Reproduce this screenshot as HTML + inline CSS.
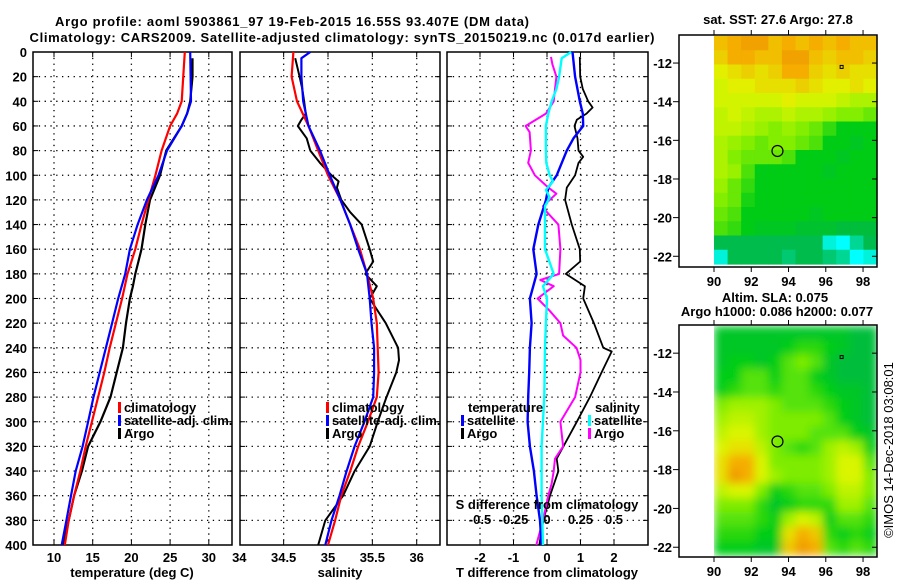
<!DOCTYPE html>
<html><head><meta charset="utf-8">
<style>
html,body{margin:0;padding:0;background:#fff;}
svg{display:block;font-family:"Liberation Sans",Arial,sans-serif;}
.t{font-weight:bold;font-size:13px;fill:#000;}
</style></head>
<body>
<svg id="fig" width="900" height="580" viewBox="0 0 900 580" xmlns="http://www.w3.org/2000/svg">
<defs>
<filter id="blur" x="0" y="0" width="1" height="1"><feGaussianBlur stdDeviation="4.5" edgeMode="duplicate"/></filter>
<clipPath id="clip2"><rect x="714" y="325" width="163" height="231"/></clipPath>
</defs>
<text class="t" x="292" y="26" text-anchor="middle" font-size="14" textLength="474">Argo profile: aoml 5903861_97 19-Feb-2015 16.55S 93.407E (DM data)</text>
<text class="t" x="342" y="42" text-anchor="middle" font-size="14" textLength="625">Climatology: CARS2009. Satellite-adjusted climatology: synTS_20150219.nc (0.017d earlier)</text>
<text class="t" x="778" y="24" text-anchor="middle">sat. SST: 27.6 Argo: 27.8</text>
<text class="t" x="775" y="302" text-anchor="middle">Altim. SLA: 0.075</text>
<text class="t" x="777" y="316" text-anchor="middle">Argo h1000: 0.086 h2000: 0.077</text>
<text x="893" y="450" font-size="13" text-anchor="middle" transform="rotate(-90 893 450)">©IMOS 14-Dec-2018 03:08:01</text>
<g id="g"></g>
</svg>
<script>
// ---- depth axis ----
const depthTicks=[0,20,40,60,80,100,120,140,160,180,200,220,240,260,280,300,320,340,360,380,400];
// ---- temperature panel ----
const tTicks=[10,15,20,25,30];
const climDepth=[0,40,50,60,80,100,120,140,160,180,200,220,240,260,280,300,320,340,360,380,400];
const climT=[26.9,26.5,25.9,25.0,23.9,23.1,22.2,21.3,20.5,19.5,18.8,18.0,17.2,16.5,15.7,14.9,14.1,13.4,12.6,11.9,11.4];
const satT=[27.6,27.7,27.2,26.5,24.6,23.5,22.0,20.8,19.8,19.2,18.3,17.5,16.7,15.9,15.1,14.4,13.7,12.8,12.2,11.6,11.0];
const argoDepthT=[5,20,40,50,60,80,100,120,140,160,180,190,200,220,240,260,280,300,320,340,360,380,400];
const argoT=[27.9,27.9,27.6,27.2,26.5,24.5,23.7,22.4,21.8,21.3,20.5,20.2,19.8,19.3,18.9,18.1,17.3,16.0,14.4,13.6,12.6,11.9,11.1];
// ---- salinity panel ----
const sTicks=[34,34.5,35,35.5,36];
const climDepthS=[0,20,40,60,80,100,120,140,160,180,200,220,240,260,280,300,320,340,360,380,400];
const climS=[34.61,34.59,34.65,34.78,34.89,35.00,35.14,35.25,35.36,35.44,35.51,35.55,35.56,35.57,35.55,35.45,35.34,35.25,35.15,35.08,35.00];
const satDepthS=[0,5,20,40,60,80,100,120,140,160,180,200,220,240,260,280,300,320,340,360,380,400];
const satS=[34.80,34.70,34.70,34.72,34.78,34.91,35.02,35.14,35.25,35.34,35.44,35.47,35.49,35.52,35.52,35.51,35.41,35.30,35.21,35.13,35.04,34.97];
const argoDepthS=[5,20,30,40,50,55,60,70,80,90,100,105,110,120,130,140,160,170,180,190,200,220,240,250,260,280,300,320,340,360,380,400];
const argoS=[34.63,34.68,34.71,34.73,34.75,34.70,34.66,34.76,34.80,34.91,35.04,35.12,35.10,35.15,35.25,35.38,35.47,35.51,35.42,35.55,35.47,35.65,35.79,35.80,35.77,35.66,35.56,35.47,35.30,35.17,34.97,34.89];
// ---- difference panel ----
const dTTicks=[-2,-1,0,1,2];
const dSTicks=[-0.5,-0.25,0,0.25,0.5];
const dDepthSatT=[0,20,40,50,60,70,80,100,110,120,140,160,180,200,220,240,260,280,300,320,340,360,380,400];
const dSatT=[0.76,0.84,0.98,1.07,1.08,0.79,0.59,0.29,0.04,-0.03,-0.26,-0.41,-0.31,-0.51,-0.46,-0.51,-0.53,-0.56,-0.58,-0.51,-0.39,-0.31,-0.21,-0.16];
const dDepthArgoT=[4,20,30,40,45,50,55,60,70,80,85,90,100,110,120,140,160,170,180,190,200,220,240,243,260,280,300,320,330,340,360,380,400];
const dArgoT=[0.98,0.99,1.07,1.23,1.36,1.18,0.89,0.82,0.91,0.94,1.08,0.94,0.84,0.59,0.54,0.74,0.98,0.99,0.56,1.13,1.08,1.40,1.68,1.93,1.63,1.28,0.89,0.49,0.29,0.34,0.09,-0.11,-0.23];
const dDepthSatS=[0,5,20,30,40,50,60,80,90,100,105,112,118,125,140,160,180,190,200,220,240,280,320,360,400];
const dSatS=[0.18,0.11,0.09,0.07,0.035,0.01,-0.008,-0.008,-0.005,0.02,0.045,-0.008,0.02,-0.015,-0.015,-0.015,0.05,-0.03,0.0,-0.008,-0.015,-0.02,-0.04,-0.04,-0.03];
const dDepthArgoS=[4,10,20,30,40,50,60,65,80,90,100,110,115,120,125,130,140,160,180,185,190,200,210,220,230,240,250,260,280,300,320,330,340,350,360,380,400];
const dArgoS=[0.03,0.04,0.07,0.06,0.05,-0.008,-0.16,-0.13,-0.12,-0.14,-0.09,0.01,0.07,0.02,-0.03,0.0,0.085,0.10,0.09,-0.05,0.05,-0.07,0.02,0.10,0.12,0.22,0.25,0.25,0.21,0.10,0.12,0.06,0.05,0.035,0.01,-0.03,-0.08];
// ---- maps ----
const lonTicks=[90,92,94,96,98];
const latTicks=[-12,-14,-16,-18,-20,-22];
const sst=[
[28.2,28.3,28.4,28.4,28.2,28.3,28.2,28.3,28.2,28.3,28.2,28.2],
[28.1,28.3,28.3,28.2,28.2,28.4,28.4,28.2,28.1,28.2,28.2,28.1],
[27.9,28.0,28.1,28.0,28.1,28.3,28.3,28.1,28.0,28.1,28.0,28.0],
[27.8,27.9,27.9,28.0,28.0,28.0,28.1,28.0,27.9,27.9,28.0,27.9],
[27.8,27.8,27.8,27.8,27.8,27.9,27.8,27.8,27.8,27.7,27.6,27.6],
[27.7,27.8,27.7,27.6,27.6,27.7,27.6,27.6,27.5,27.4,27.4,27.3],
[27.7,27.7,27.6,27.5,27.4,27.5,27.4,27.3,27.1,26.9,26.9,26.9],
[27.6,27.5,27.4,27.3,27.4,27.4,27.3,27.2,26.9,26.9,26.8,26.9],
[27.6,27.4,27.3,27.3,27.3,27.2,26.9,26.9,26.9,26.8,26.9,26.9],
[27.6,27.5,27.2,26.9,26.9,26.9,26.9,26.9,26.8,26.9,26.9,26.9],
[27.5,27.3,27.1,26.9,26.9,26.9,26.9,26.9,26.9,26.9,26.9,26.9],
[27.4,27.3,27.0,26.9,26.9,26.9,26.9,26.9,26.9,26.9,26.9,26.9],
[27.3,27.2,26.9,26.9,26.9,26.9,26.9,26.8,26.9,26.9,26.9,26.9],
[27.2,27.1,26.9,26.8,26.8,26.8,26.7,26.7,26.7,26.6,26.6,26.6],
[26.5,26.5,26.5,26.5,26.5,26.5,26.5,26.5,26.1,26.0,26.3,26.5],
[26.1,26.5,26.5,26.5,26.5,26.4,26.5,26.5,26.4,26.3,26.0,26.1]];
const sla=[
[0.07,0.07,0.07,0.07,0.07,0.07,0.07,0.07,0.07,0.07,0.06,0.06],
[0.07,0.07,0.07,0.07,0.07,0.08,0.09,0.09,0.08,0.07,0.06,0.06],
[0.07,0.08,0.08,0.07,0.08,0.10,0.11,0.10,0.07,0.06,0.06,0.06],
[0.08,0.08,0.10,0.10,0.08,0.10,0.10,0.08,0.07,0.06,0.06,0.06],
[0.08,0.09,0.10,0.10,0.09,0.10,0.10,0.09,0.08,0.07,0.07,0.06],
[0.11,0.12,0.12,0.12,0.11,0.10,0.10,0.10,0.09,0.08,0.07,0.06],
[0.12,0.13,0.13,0.12,0.11,0.11,0.11,0.11,0.10,0.08,0.07,0.06],
[0.13,0.14,0.14,0.12,0.11,0.11,0.11,0.10,0.10,0.10,0.08,0.07],
[0.14,0.15,0.15,0.13,0.11,0.10,0.09,0.10,0.12,0.13,0.12,0.08],
[0.15,0.17,0.17,0.14,0.11,0.11,0.11,0.11,0.12,0.14,0.14,0.10],
[0.15,0.18,0.17,0.14,0.12,0.11,0.11,0.11,0.12,0.14,0.14,0.11],
[0.13,0.14,0.14,0.11,0.08,0.09,0.10,0.10,0.11,0.13,0.13,0.11],
[0.11,0.11,0.11,0.09,0.07,0.08,0.09,0.09,0.09,0.12,0.12,0.10],
[0.10,0.10,0.10,0.09,0.08,0.12,0.14,0.13,0.08,0.10,0.10,0.09],
[0.09,0.09,0.09,0.08,0.08,0.15,0.17,0.16,0.09,0.08,0.09,0.08],
[0.08,0.08,0.08,0.07,0.07,0.16,0.18,0.17,0.10,0.09,0.10,0.09]];
const argoLon=93.407, argoLat=-16.55;

const NS='http://www.w3.org/2000/svg';
const G=document.getElementById('g');
function el(tag,attrs,parent){const e=document.createElementNS(NS,tag);for(const k in attrs)e.setAttribute(k,attrs[k]);(parent||G).appendChild(e);return e;}
const Y0=52,Y1=545;
function yD(d){return Y0+d*(Y1-Y0)/400;}
function xT(t){return 54+(t-10)*7.74;}
function xS(s){return 328+(s-35)*88.7;}
function xDT(t){return 547+t*33.5;}
function xDS(s){return 547+s*134;}
const P=[{x0:33,x1:232,name:'temperature-panel'},{x0:240,x1:440,name:'salinity-panel'},{x0:447,x1:648,name:'difference-panel'}];

function panelFrame(p,vx){
  const g=el('g',{});
  
  
  depthTicks.forEach(d=>{
    if(d===0||d===400)return;
    const y=yD(d);
    el('line',{x1:p.x0,x2:p.x1,y1:y,y2:y,stroke:'#000','stroke-width':1.3,'stroke-dasharray':'1.3 4.5'},g);
    el('line',{x1:p.x0,x2:p.x0+5,y1:y,y2:y,stroke:'#000','stroke-width':1},g);
    el('line',{x1:p.x1-5,x2:p.x1,y1:y,y2:y,stroke:'#000','stroke-width':1},g);
  });
  vx.forEach(x=>{
    if(x<=p.x0+1||x>=p.x1-1)return;
    el('line',{x1:x,x2:x,y1:Y0,y2:Y1,stroke:'#000','stroke-width':1.3,'stroke-dasharray':'1.3 4.5'},g);
    el('line',{x1:x,x2:x,y1:Y1-5,y2:Y1,stroke:'#000'},g);
    el('line',{x1:x,x2:x,y1:Y0,y2:Y0+5,stroke:'#000'},g);
  });
  el('rect',{x:p.x0,y:Y0,width:p.x1-p.x0,height:Y1-Y0,fill:'none',stroke:'#000','stroke-width':1.5},g);
  return g;
}
function line(xs,ds,fx,color,w,name,parent){
  const pts=xs.map((v,i)=>fx(v).toFixed(1)+','+yD(ds[i]).toFixed(1)).join(' ');
  const pl=el('polyline',{points:pts,fill:'none',stroke:color,'stroke-width':w,'stroke-linejoin':'round'},parent);
  
  
  return pl;
}
function txt(x,y,s,anchor,name,size){
  const t=el('text',{x:x,y:y,'text-anchor':anchor||'middle',class:'t'});
  if(size)t.setAttribute('font-size',size);
  t.textContent=s;
  
  
  return t;
}
function legendItem(x,y,color,label,name){
  const g=el('g',{});
  
  
  el('rect',{x:x,y:y-10,width:3,height:11,fill:color},g);
  const t=el('text',{x:x+6,y:y,class:'t'},g);t.textContent=label;
}

// depth labels
depthTicks.forEach(d=>{txt(27,yD(d)+5,String(d),'end','depth-tick-label');});

// Panel 1
const g1=panelFrame(P[0],tTicks.map(xT));
line(argoT,argoDepthT,xT,'#000',2.2,'argo-temperature-line',g1);
line(climT,climDepth,xT,'#f00',2.2,'climatology-temperature-line',g1);
line(satT,climDepth,xT,'#00f',2.2,'satellite-temperature-line',g1);
tTicks.forEach(t=>txt(xT(t),562,String(t),'middle','temperature-tick-label'));
txt(132,577,'temperature (deg C)','middle','temperature-axis-title');
legendItem(118,412,'#f00','climatology','legend-climatology');
legendItem(118,425,'#00f','satellite-adj. clim.','legend-satellite-adj');
legendItem(118,438,'#000','Argo','legend-argo');

// Panel 2
const g2=panelFrame(P[1],sTicks.map(xS));
line(argoS,argoDepthS,xS,'#000',2,'argo-salinity-line',g2);
line(climS,climDepthS,xS,'#f00',2.2,'climatology-salinity-line',g2);
line(satS,satDepthS,xS,'#00f',2.2,'satellite-salinity-line',g2);
sTicks.forEach(s=>txt(xS(s),562,String(s),'middle','salinity-tick-label'));
txt(340,577,'salinity','middle','salinity-axis-title');
legendItem(326,412,'#f00','climatology','legend-climatology-s');
legendItem(326,425,'#00f','satellite-adj. clim.','legend-satellite-adj-s');
legendItem(326,438,'#000','Argo','legend-argo-s');

// Panel 3
const g3=panelFrame(P[2],dTTicks.map(xDT));
line(dArgoT,dDepthArgoT,xDT,'#000',1.8,'argo-t-diff-line',g3);
line(dArgoS,dDepthArgoS,xDS,'#f0f',2,'argo-s-diff-line',g3);
line(dSatT,dDepthSatT,xDT,'#00f',2.4,'satellite-t-diff-line',g3);
line(dSatS,dDepthSatS,xDS,'#0ff',2.4,'satellite-s-diff-line',g3);
dTTicks.forEach(t=>txt(xDT(t),562,String(t),'middle','t-diff-tick-label'));
txt(547,577,'T difference from climatology','middle','t-diff-axis-title');
txt(547,509,'S difference from climatology','middle','s-diff-axis-title');
dSTicks.forEach(s=>txt(xDS(s),524,String(s),'middle','s-diff-tick-label'));
txt(468,412,'temperature','start','legend-temperature-header');
legendItem(461,425,'#00f','satellite','legend-t-satellite');
legendItem(461,438,'#000','Argo','legend-t-argo');
txt(595,412,'salinity','start','legend-salinity-header');
legendItem(588,425,'#0ff','satellite','legend-s-satellite');
legendItem(588,438,'#f0f','Argo','legend-s-argo');

// colormap
function cmap(t){
  t=Math.max(0,Math.min(1,t));
  const st=[[0,[0,255,255]],[0.2,[0,185,70]],[0.35,[0,205,20]],[0.55,[140,240,0]],[0.72,[225,245,0]],[0.88,[245,175,0]],[1,[235,135,0]]];
  for(let i=1;i<st.length;i++){if(t<=st[i][0]){const a=st[i-1],b=st[i],f=(t-a[0])/(b[0]-a[0]);return 'rgb('+a[1].map((c,k)=>Math.round(c+(b[1][k]-c)*f)).join(',')+')';}}
  return 'rgb(235,135,0)';
}
function mapAxes(top,name,dataTop,dataBot){
  const g=el('g',{});
  
  
  const bx0=679,bx1=877,by0=top,by1=top+232;
  const lx=l=>714+(l-90)*18.63;
  const ly=l=>dataTop+(-10.6-l)*(dataBot-dataTop)/11.8;
  return {g,bx0,bx1,by0,by1,lx,ly};
}
function drawMap(m,data,vmin,vmax,blur,clipId,name,valName){
  const rows=data.length,cols=data[0].length;
  const x0=714,x1=877,y0=m.ly(-10.6),y1=m.ly(-22.4);
  const cw=(x1-x0)/cols,ch=(y1-y0)/rows;
  const cg=el('g',blur?{'clip-path':'url(#'+clipId+')'}:{},m.g);
  const inner=el('g',blur?{filter:'url(#blur)'}:{},cg);
  
  
  data.forEach((row,r)=>row.forEach((v,c)=>{
    const rc=el('rect',{x:(x0+c*cw).toFixed(2),y:(y0+r*ch).toFixed(2),width:(cw+0.6).toFixed(2),height:(ch+0.6).toFixed(2),fill:cmap((v-vmin)/(vmax-vmin))},inner);
    
    
  }));
  el('rect',{x:m.bx0,y:m.by0,width:m.bx1-m.bx0,height:m.by1-m.by0,fill:'none',stroke:'#000','stroke-width':1.5},m.g);
  latTicks.forEach(l=>{const y=m.ly(l);
    el('line',{x1:m.bx0-6,x2:m.bx0,y1:y,y2:y,stroke:'#000'},m.g);
    el('line',{x1:m.bx1-5,x2:m.bx1,y1:y,y2:y,stroke:'#000'},m.g);
    const t=el('text',{x:m.bx0-7,y:y+5,'text-anchor':'end',class:'t'},m.g);t.textContent=String(l);});
  lonTicks.forEach(l=>{const x=m.lx(l);
    el('line',{x1:x,x2:x,y1:m.by1,y2:m.by1+5,stroke:'#000'},m.g);
    el('line',{x1:x,x2:x,y1:m.by0-5,y2:m.by0,stroke:'#000'},m.g);
    const t=el('text',{x:x,y:m.by1+19,'text-anchor':'middle',class:'t'},m.g);t.textContent=String(l);});
  const c=el('circle',{cx:m.lx(argoLon),cy:m.ly(argoLat),r:5.5,fill:'none',stroke:'#000','stroke-width':1.2},m.g);
  
  
  el('rect',{x:m.lx(96.85)-1.5,y:m.ly(-12.2)-1.5,width:3,height:3,fill:'none',stroke:'#000','stroke-width':1},m.g);
}
const m1=mapAxes(35,'sst-map',36,264);
drawMap(m1,sst,26.0,28.6,false,null,'sst-cells','sst-cell');
const m2=mapAxes(325,'sla-map',326,555);
drawMap(m2,sla,0.02,0.19,true,'clip2','sla-cells','sla-cell');
</script>
</body></html>
